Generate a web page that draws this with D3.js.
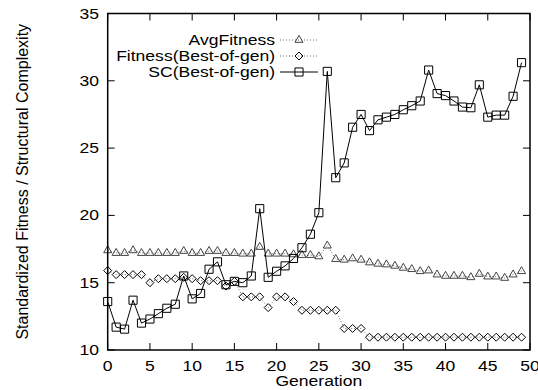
<!DOCTYPE html>
<html>
<head>
<meta charset="utf-8">
<script src="https://cdn.jsdelivr.net/npm/d3@7"></script>
<style>
  body { margin: 0; background: #fff; }
  svg { display: block; font-family: "Liberation Sans", Arial, sans-serif; }
</style>
</head>
<body>
<div id="chart"></div>
<script>
// generations 0..49
const generations = d3.range(0, 50);

const avgFitness = [
  17.4, 17.2, 17.2, 17.4, 17.2, 17.2, 17.2, 17.2, 17.2, 17.35,
  17.2, 17.2, 17.35, 17.35, 17.2, 17.2, 17.15, 17.15, 17.65, 17.15,
  17.15, 17.15, 17.1, 17.05, 17.05, 16.95, 17.75, 16.75, 16.7, 16.8,
  16.7, 16.5, 16.4, 16.35, 16.25, 16.1, 16.0, 15.85, 15.9, 15.6,
  15.5, 15.5, 15.5, 15.4, 15.65, 15.45, 15.45, 15.35, 15.6, 15.85
];

const bestFitness = [
  15.9, 15.6, 15.6, 15.6, 15.6, 15.0, 15.3, 15.3, 15.3, 15.4,
  15.3, 15.15, 15.15, 15.15, 14.75, 15.1, 13.95, 13.95, 13.95, 13.15,
  13.95, 13.95, 13.6, 12.95, 12.95, 12.95, 12.95, 12.95, 11.6, 11.6,
  11.6, 10.95, 10.95, 10.95, 10.95, 10.95, 10.95, 10.95, 10.95, 10.95,
  10.95, 10.95, 10.95, 10.95, 10.95, 10.95, 10.95, 10.95, 10.95, 10.95
];

const scBest = [
  13.6, 11.7, 11.55, 13.7, 12.0, 12.3, 12.7, 13.1, 13.4, 15.5,
  13.8, 14.2, 16.0, 16.55, 14.85, 15.1, 15.0, 15.5, 20.5, 15.4,
  15.85, 16.25, 16.8, 17.6, 18.6, 20.2, 30.7, 22.8, 23.9, 26.55,
  27.5, 26.3, 27.1, 27.3, 27.5, 27.85, 28.15, 28.5, 30.8, 29.05,
  28.9, 28.5, 28.05, 28.0, 29.7, 27.3, 27.45, 27.45, 28.85, 31.35
];

const xTicks = d3.range(0, 51, 5);
const yTicks = d3.range(10, 36, 5);

const seriesNames = ["AvgFitness", "Fitness(Best-of-gen)", "SC(Best-of-gen)"];

const W = 538, H = 390;
const plot = { left: 107.7, right: 530, top: 13.5, bottom: 350 };
const TXS = 1.17; // text is a bit stretched horizontally in the original

const x = d3.scaleLinear().domain([0, 50]).range([plot.left, plot.right]);
const y = d3.scaleLinear().domain([10, 35]).range([plot.bottom, plot.top]);

const svg = d3.select('#chart').append('svg')
  .attr('width', W).attr('height', H);

// stretched text helper
function label(g, tx, ty, str, anchor, size) {
  return g.append('text')
    .attr('transform', `translate(${tx},${ty}) scale(${TXS},1)`)
    .attr('text-anchor', anchor)
    .attr('font-size', size)
    .attr('fill', '#000')
    .text(str);
}

// ticks (mirrored on all four sides, pointing inward)
const tickLen = 7;
const ticks = svg.append('g').attr('stroke', '#000').attr('stroke-width', 1);
xTicks.forEach(v => {
  ticks.append('line').attr('x1', x(v)).attr('x2', x(v))
    .attr('y1', plot.bottom).attr('y2', plot.bottom - tickLen);
  ticks.append('line').attr('x1', x(v)).attr('x2', x(v))
    .attr('y1', plot.top).attr('y2', plot.top + tickLen);
});
yTicks.forEach(v => {
  ticks.append('line').attr('x1', plot.left).attr('x2', plot.left + tickLen)
    .attr('y1', y(v)).attr('y2', y(v));
  ticks.append('line').attr('x1', plot.right).attr('x2', plot.right - tickLen)
    .attr('y1', y(v)).attr('y2', y(v));
});

// tick labels (last one runs off the right edge, as in the original)
const lbl = svg.append('g');
xTicks.forEach(v => label(lbl, x(v), 371, String(v), 'middle', 15));
yTicks.forEach(v => label(lbl, 99, y(v) + 5, String(v), 'end', 15));

// axis titles
label(lbl, (plot.left + plot.right) / 2, 386, 'Generation', 'middle', 15);
svg.append('text')
  .attr('transform', `translate(28,${(plot.top + plot.bottom) / 2}) rotate(-90)`)
  .attr('text-anchor', 'middle')
  .attr('font-size', 16)
  .text('Standardized Fitness / Structural Complexity');

// marker shapes, gnuplot style
const diamond = {
  draw(ctx, size) {
    const r = Math.sqrt(size) / 2;
    ctx.moveTo(0, -r); ctx.lineTo(r, 0); ctx.lineTo(0, r); ctx.lineTo(-r, 0); ctx.closePath();
  }
};
const sym = {
  tri: d3.symbol().type(d3.symbolTriangle).size(28),
  dia: d3.symbol().type(diamond).size(64),
  sq: d3.symbol().type(d3.symbolSquare).size(66)
};

const series = [
  { name: seriesNames[0], values: avgFitness, dash: '1,2', lineColor: '#666', shape: sym.tri, mColor: '#444' },
  { name: seriesNames[1], values: bestFitness, dash: '1,2', lineColor: '#666', shape: sym.dia, mColor: '#000' },
  { name: seriesNames[2], values: scBest, dash: null, lineColor: '#000', shape: sym.sq, mColor: '#000' }
];

const line = d3.line().x((d, i) => x(generations[i])).y(d => y(d));

series.forEach(s => {
  const g = svg.append('g');
  g.append('path')
    .attr('d', line(s.values))
    .attr('fill', 'none')
    .attr('stroke', s.lineColor)
    .attr('stroke-width', 1)
    .attr('stroke-dasharray', s.dash);
  g.selectAll('path.pt')
    .data(s.values)
    .join('path')
    .attr('class', 'pt')
    .attr('d', s.shape)
    .attr('transform', (d, i) => `translate(${x(generations[i])},${y(d)})`)
    .attr('fill', 'none')
    .attr('stroke', s.mColor)
    .attr('stroke-width', 1);
});

// legend
const legRows = [40, 56, 72];
const leg = svg.append('g');
series.forEach((s, i) => {
  const ly = legRows[i];
  label(leg, 275, ly + 5, s.name, 'end', 15);
  leg.append('line')
    .attr('x1', 280).attr('x2', 318).attr('y1', ly).attr('y2', ly)
    .attr('stroke', s.lineColor).attr('stroke-width', 1)
    .attr('stroke-dasharray', s.dash);
  leg.append('path')
    .attr('d', s.shape)
    .attr('transform', `translate(299,${ly})`)
    .attr('fill', 'none').attr('stroke', s.mColor).attr('stroke-width', 1);
});

// frame
svg.append('rect')
  .attr('x', plot.left).attr('y', plot.top)
  .attr('width', plot.right - plot.left).attr('height', plot.bottom - plot.top)
  .attr('fill', 'none').attr('stroke', '#000').attr('stroke-width', 1.5);
</script>
</body>
</html>
